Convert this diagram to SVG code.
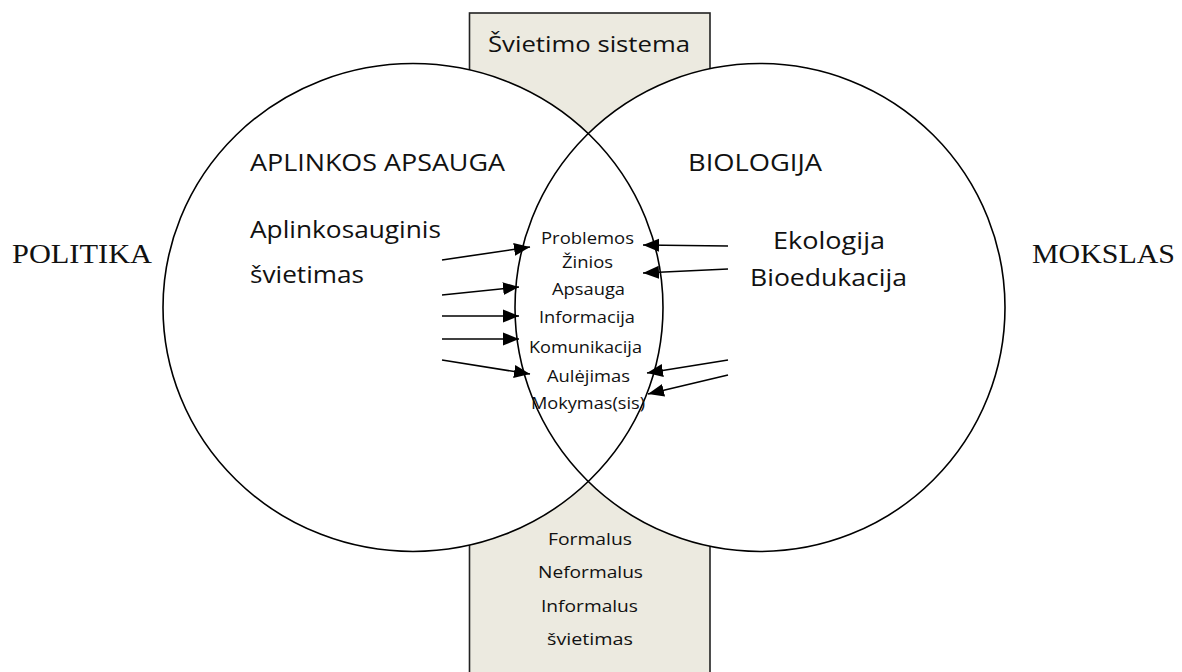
<svg xmlns="http://www.w3.org/2000/svg" width="1182" height="672" viewBox="0 0 1182 672">
<style>
.c{font-family:"Open Sans","Noto Sans","Liberation Sans",sans-serif;fill:#111}
.s{font-family:"Liberation Serif","Times New Roman",serif;fill:#111}
.ln{stroke:#000;stroke-width:1.6;fill:none}
.arr{stroke:#000;stroke-width:1.6;fill:none;marker-end:url(#ah)}
</style>
<defs>
<marker id="ah" markerUnits="userSpaceOnUse" markerWidth="18" markerHeight="14" refX="16" refY="7" orient="auto">
<path d="M0,0.5 L16,7 L0,13.5 Z" fill="#000"/>
</marker>
</defs>
<rect width="1182" height="672" fill="#fff"/>
<g id="edu-box">
<rect x="469.5" y="13" width="240.5" height="680" fill="#ECEAE0" stroke="#222" stroke-width="1.6"/>
</g>
<g id="circles-fill">
<ellipse cx="413" cy="307.5" rx="250" ry="244" fill="#fff"/>
<ellipse cx="760" cy="307.5" rx="245" ry="244" fill="#fff"/>
</g>
<g id="circle-left">
<ellipse class="ln" cx="413" cy="307.5" rx="250" ry="244"/>
</g>
<g id="circle-right">
<ellipse class="ln" cx="760" cy="307.5" rx="245" ry="244"/>
</g>
<g id="labels-top">
<text class="c" x="488" y="52" font-size="22" textLength="202" lengthAdjust="spacingAndGlyphs">Švietimo sistema</text>
</g>
<g id="node-aplinkos">
<text class="c" x="250" y="171" font-size="24" textLength="255" lengthAdjust="spacingAndGlyphs">APLINKOS APSAUGA</text>
<text class="c" x="250" y="238" font-size="24" textLength="191" lengthAdjust="spacingAndGlyphs">Aplinkosauginis</text>
<text class="c" x="250" y="283" font-size="24" textLength="114" lengthAdjust="spacingAndGlyphs">švietimas</text>
</g>
<g id="node-biologija">
<text class="c" x="688" y="171" font-size="24" textLength="134" lengthAdjust="spacingAndGlyphs">BIOLOGIJA</text>
<text class="c" x="773" y="249" font-size="24" textLength="112" lengthAdjust="spacingAndGlyphs">Ekologija</text>
<text class="c" x="750" y="286" font-size="24" textLength="157" lengthAdjust="spacingAndGlyphs">Bioedukacija</text>
</g>
<g id="node-politika">
<text class="s" x="12" y="263" font-size="27" textLength="140" lengthAdjust="spacingAndGlyphs">POLITIKA</text>
</g>
<g id="node-mokslas">
<text class="s" x="1032" y="263" font-size="27" textLength="143" lengthAdjust="spacingAndGlyphs">MOKSLAS</text>
</g>
<g id="node-lens">
<text class="c" x="541" y="244" font-size="16" textLength="93" lengthAdjust="spacingAndGlyphs">Problemos</text>
<text class="c" x="562" y="268" font-size="16" textLength="51" lengthAdjust="spacingAndGlyphs">Žinios</text>
<text class="c" x="552" y="295" font-size="16" textLength="73" lengthAdjust="spacingAndGlyphs">Apsauga</text>
<text class="c" x="539" y="323" font-size="16" textLength="96" lengthAdjust="spacingAndGlyphs">Informacija</text>
<text class="c" x="529" y="353" font-size="16" textLength="113" lengthAdjust="spacingAndGlyphs">Komunikacija</text>
<text class="c" x="547" y="382" font-size="16" textLength="83" lengthAdjust="spacingAndGlyphs">Aulėjimas</text>
<text class="c" x="531" y="409" font-size="16" textLength="114" lengthAdjust="spacingAndGlyphs">Mokymas(sis)</text>
</g>
<g id="node-education-forms">
<text class="c" x="548" y="545" font-size="17" textLength="84" lengthAdjust="spacingAndGlyphs">Formalus</text>
<text class="c" x="538" y="578" font-size="17" textLength="105" lengthAdjust="spacingAndGlyphs">Neformalus</text>
<text class="c" x="541" y="612" font-size="17" textLength="97" lengthAdjust="spacingAndGlyphs">Informalus</text>
<text class="c" x="547" y="645" font-size="17" textLength="86" lengthAdjust="spacingAndGlyphs">švietimas</text>
</g>
<g id="connectors">
<line class="arr" x1="442" y1="260" x2="530" y2="247"/>
<line class="arr" x1="442" y1="295" x2="519" y2="287"/>
<line class="arr" x1="442" y1="316" x2="519" y2="316"/>
<line class="arr" x1="442" y1="339" x2="519" y2="339"/>
<line class="arr" x1="442" y1="360" x2="530" y2="374"/>
<line class="arr" x1="728" y1="246" x2="643" y2="245"/>
<line class="arr" x1="728" y1="269" x2="643" y2="273"/>
<line class="arr" x1="728" y1="360" x2="647" y2="373"/>
<line class="arr" x1="728" y1="375" x2="648" y2="394"/>
</g>
</svg>
